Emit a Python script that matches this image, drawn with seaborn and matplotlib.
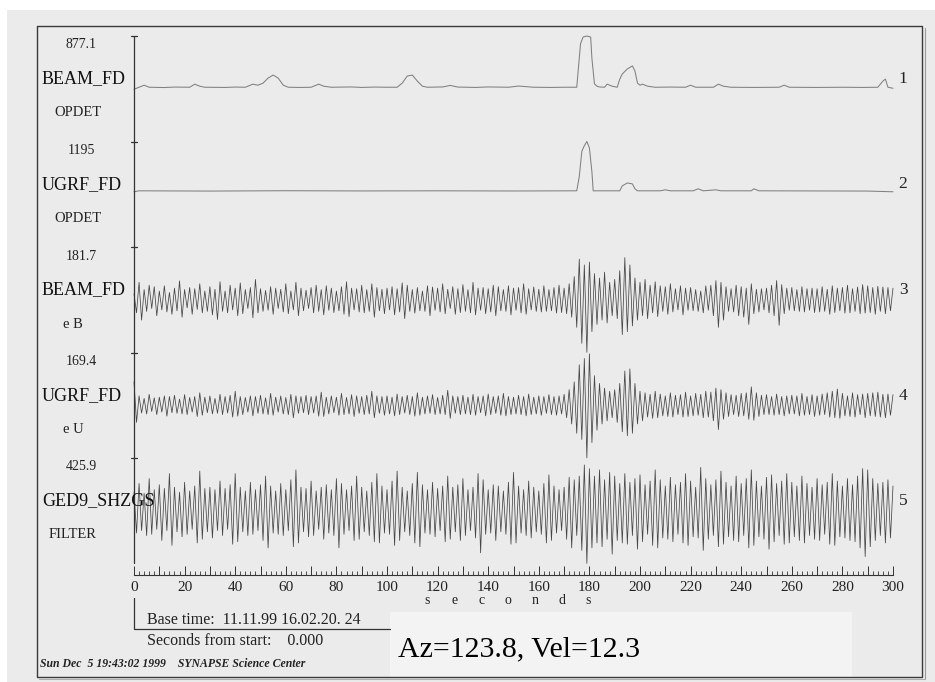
import matplotlib
matplotlib.use("Agg")
import matplotlib.pyplot as plt
import seaborn as sns
from matplotlib.lines import Line2D
from matplotlib.patches import Rectangle
from matplotlib.ticker import MultipleLocator, FuncFormatter

# ---------------- data ----------------
track_names = ["BEAM_FD", "UGRF_FD", "BEAM_FD", "UGRF_FD", "GED9_SHZGS"]
track_sub = ["OPDET", "OPDET", "e B", "e U", "FILTER"]
track_max = [877.1, 1195, 181.7, 169.4, 425.9]
track_max_labels = ["877.1", "1195", "181.7", "169.4", "425.9"]
track_ids = ["1", "2", "3", "4", "5"]

opdet1_t = [0, 2, 4, 6, 12, 16, 22, 24, 26, 28, 36, 40, 44, 47, 49, 51, 53, 55, 57, 59,
            61, 66, 70, 73, 75, 78, 86, 90, 95, 100, 104, 106, 108, 110, 112, 114, 116, 122,
            125, 128, 135, 140, 148, 152, 158, 165, 170, 175, 176.5, 177.5, 179, 180.5, 181,
            182, 183, 184, 186, 187, 189, 191, 192, 193, 195, 197, 198, 199, 200, 201, 203,
            206, 212, 218, 220, 222, 229, 231, 233, 236, 245, 255, 257, 259, 270, 280, 288,
            294, 296, 297, 298, 300]
opdet1_v = [-8, 25, 59, 25, 20, 28, 25, 76, 42, 25, 22, 28, 25, 76, 59, 93, 177, 228, 177, 59,
            25, 22, 25, 76, 42, 25, 30, 22, 28, 25, 25, 93, 211, 228, 127, 42, 25, 30,
            55, 28, 22, 30, 25, 45, 25, 22, 25, 25, 750, 860, 877, 860, 500,
            80, 42, 30, 25, 76, 42, 25, 160, 245, 330, 380, 296, 93, 59, 76, 42,
            25, 28, 25, 59, 25, 25, 76, 42, 25, 22, 25, 59, 25, 22, 25, 22,
            25, 127, 160, 25, 8]

opdet2_t = [0, 2, 30, 60, 90, 120, 150, 175, 176, 177, 178, 179, 180, 181, 181.5, 183, 192,
            193, 195, 197, 198, 199, 208, 210, 212, 221, 223, 225, 230, 232, 244, 245, 247,
            270, 290, 300]
opdet2_v = [56, 78, 72, 80, 75, 78, 74, 78, 400, 970, 1100, 1195, 1050, 500, 78, 78, 78,
            190, 256, 234, 123, 78, 78, 100, 78, 78, 123, 78, 100, 78, 78, 123, 78,
            75, 72, 56]

seis_t = list(range(0, 301))

beam_eb = [
    20, -45, 60, -70, 35, -40, 50, -30, 45, -55,
    30, -35, 48, -42, 25, -50, 40, -38, 65, -60,
    35, -28, 42, -50, 38, -33, 55, -45, 30, -40,
    45, -52, 36, -68, 62, -40, 30, -45, 50, -35,
    40, -55, 58, -48, 35, -30, 42, -62, 70, -45,
    38, -40, 32, -36, 45, -50, 40, -30, 36, -42,
    55, -48, 30, -35, 60, -55, 40, -38, 33, -30,
    42, -45, 50, -40, 35, -52, 48, -36, 40, -44,
    30, -38, 45, -50, 62, -58, 40, -35, 38, -42,
    50, -45, 35, -40, 55, -60, 42, -38, 36, -48,
    40, -35, 45, -52, 38, -42, 58, -65, 50, -40,
    35, -46, 42, -38, 30, -40, 48, -55, 44, -36,
    40, -42, 55, -48, 36, -30, 45, -50, 38, -44,
    52, -40, 35, -45, 60, -52, 40, -36, 42, -48,
    38, -42, 50, -55, 45, -38, 35, -40, 48, -52,
    40, -36, 42, -45, 55, -50, 38, -35, 44, -40,
    36, -42, 48, -40, 35, -38, 42, -46, 50, -44,
    40, -48, 55, -60, 80, -95, 140, -150, 120, -181,
    130, -110, 90, -85, 75, -70, 95, -80, 60, -55,
    70, -65, 100, -120, 145, -110, 120, -90, 75, -70,
    60, -55, 70, -65, 50, -45, 62, -58, 48, -40,
    45, -50, 55, -42, 38, -35, 48, -52, 40, -36,
    42, -38, 35, -40, 30, -45, 48, -36, 50, -55,
    66, -95, 60, -70, 45, -40, 38, -42, 50, -55,
    45, -60, 40, -85, 55, -48, 36, -42, 38, -35,
    40, -45, 50, -55, 66, -88, 52, -48, 40, -36,
    42, -38, 35, -40, 45, -42, 38, -36, 40, -44,
    38, -42, 45, -40, 36, -50, 48, -44, 40, -38,
    42, -46, 50, -45, 38, -40, 44, -48, 52, -46,
    48, -44, 42, -50, 46, -40, 44, -48, 42, -38,
    40]

ugrf_eu = [
    75, -55, 30, -25, 22, -28, 35, -20, 24, -30,
    26, -22, 30, -35, 28, -24, 32, -26, 20, -28,
    34, -30, 25, -22, 28, -36, 40, -32, 26, -24,
    30, -28, 22, -26, 35, -30, 28, -25, 32, -38,
    45, -35, 28, -30, 25, -22, 30, -34, 28, -26,
    32, -28, 24, -30, 38, -32, 26, -22, 30, -28,
    25, -30, 35, -40, 30, -26, 28, -24, 32, -30,
    28, -25, 30, -35, 42, -36, 26, -28, 30, -24,
    26, -32, 38, -30, 25, -28, 34, -36, 30, -26,
    28, -30, 32, -28, 45, -40, 30, -26, 28, -32,
    30, -28, 26, -34, 36, -30, 28, -25, 32, -30,
    28, -35, 40, -32, 26, -28, 30, -26, 34, -30,
    25, -28, 32, -30, 48, -42, 30, -26, 28, -30,
    32, -28, 26, -30, 35, -32, 28, -24, 30, -34,
    36, -30, 28, -26, 30, -32, 38, -34, 28, -30,
    26, -28, 32, -30, 28, -34, 36, -30, 26, -28,
    30, -32, 28, -26, 34, -30, 28, -32, 30, -28,
    35, -40, 50, -60, 75, -90, 130, -110, 150, -169,
    165, -120, 95, -80, 70, -60, 55, -50, 45, -40,
    50, -55, 70, -85, 110, -98, 117, -90, 70, -60,
    45, -50, 40, -38, 35, -42, 45, -40, 36, -34,
    30, -36, 40, -38, 32, -30, 34, -38, 42, -36,
    30, -34, 38, -32, 35, -40, 45, -38, 42, -50,
    55, -78, 50, -45, 40, -36, 34, -30, 32, -36,
    38, -34, 40, -45, 59, -48, 40, -36, 32, -30,
    34, -30, 28, -32, 36, -30, 28, -34, 30, -28,
    32, -28, 30, -34, 38, -32, 28, -30, 34, -36,
    30, -32, 36, -30, 40, -38, 45, -40, 52, -42,
    38, -34, 30, -36, 40, -38, 34, -30, 36, -40,
    38, -34, 40, -36, 42, -38, 35, -40, 36, -32,
    34]

ged9_filter = [
    150, -180, 220, -160, 140, -200, 260, -190, 170, -150,
    210, -240, 180, -160, 300, -280, 190, -170, 150, -210,
    230, -190, 160, -150, 200, -260, 320, -230, 180, -170,
    190, -220, 170, -160, 240, -200, 180, -150, 210, -270,
    300, -250, 190, -170, 160, -200, 230, -190, 170, -160,
    210, -240, 280, -300, 200, -180, 160, -190, 220, -200,
    170, -160, 250, -290, 330, -260, 190, -170, 180, -210,
    240, -200, 160, -150, 190, -230, 210, -180, 170, -200,
    260, -300, 220, -190, 170, -160, 200, -240, 280, -230,
    190, -170, 160, -200, 230, -250, 300, -260, 200, -180,
    170, -190, 240, -280, 320, -240, 190, -170, 160, -200,
    220, -260, 310, -290, 210, -180, 170, -190, 230, -210,
    180, -160, 200, -250, 280, -230, 190, -170, 210, -240,
    260, -200, 170, -160, 190, -220, 300, -340, 250, -190,
    170, -180, 210, -240, 200, -170, 160, -190, 230, -270,
    310, -260, 200, -180, 170, -200, 240, -220, 190, -170,
    160, -190, 220, -260, 290, -240, 200, -180, 170, -160,
    190, -230, 270, -300, 250, -200, 280, -320, 370, -425,
    340, -300, 280, -260, 330, -290, 250, -230, 310, -350,
    280, -240, 220, -260, 300, -270, 230, -200, 260, -310,
    290, -250, 210, -190, 240, -280, 330, -300, 250, -220,
    200, -230, 270, -250, 210, -190, 230, -260, 300, -280,
    240, -210, 190, -220, 350, -320, 260, -230, 210, -200,
    250, -290, 320, -270, 230, -210, 200, -240, 280, -250,
    220, -200, 260, -300, 330, -280, 240, -210, 200, -230,
    270, -310, 290, -250, 220, -200, 240, -270, 300, -260,
    230, -210, 200, -240, 280, -260, 220, -200, 190, -230,
    260, -240, 210, -190, 230, -270, 300, -280, 240, -210,
    200, -220, 260, -240, 210, -250, 280, -300, 340, -370,
    330, -290, 260, -240, 220, -200, 230, -260, 250, -220,
    200]

x_min, x_max = 0, 300
base_time = "Base time:  11.11.99 16.02.20. 24"
sec_from_start = "Seconds from start:    0.000"
footer = "Sun Dec  5 19:43:02 1999    SYNAPSE Science Center"
az_text = "Az=123.8, Vel=12.3"

# ---------------- style ----------------
sns.set_style("white")
plt.rcParams["font.family"] = ["Liberation Serif", "DejaVu Serif"]

W, H = 935, 682
fig = plt.figure(figsize=(W / 100, H / 100), dpi=100)
fig.patch.set_facecolor("white")


def fx(p):
    return p / W


def fy(p):
    return 1 - p / H


# paper background
fig.add_artist(Rectangle((fx(7), 0), 1 - fx(7), fy(10), transform=fig.transFigure,
                         facecolor="#ebebeb", edgecolor="none", zorder=-10))
fig.add_artist(Rectangle((fx(390), fy(677)), fx(852) - fx(390), fy(612) - fy(677),
                         transform=fig.transFigure, facecolor="#f3f3f3",
                         edgecolor="none", zorder=-9))
# outer frame
fig.add_artist(Line2D([fx(37), fx(922), fx(922), fx(37), fx(37)],
                      [fy(26), fy(26), fy(677), fy(677), fy(26)],
                      transform=fig.transFigure, color="#3a3a3a", lw=1.0))
fig.add_artist(Line2D([fx(925), fx(925)], [fy(28), fy(679)], transform=fig.transFigure,
                      color="#9a9a9a", lw=0.8))
fig.add_artist(Line2D([fx(39), fx(925)], [fy(679), fy(679)], transform=fig.transFigure,
                      color="#b0b0b0", lw=0.8))

# tracks
tops = [36, 141.5, 247, 352.5, 458]
th = 105.5
series = [(opdet1_t, opdet1_v), (opdet2_t, opdet2_v), (seis_t, beam_eb),
          (seis_t, ugrf_eu), (seis_t, ged9_filter)]
for k in range(5):
    ax = fig.add_axes([fx(134), fy(tops[k] + th), fx(893) - fx(134), th / H])
    ax.set_facecolor("none")
    tx, tv = series[k]
    if k < 2:
        sns.lineplot(x=tx, y=tv, ax=ax, color="#808080", linewidth=0.75,
                     estimator=None, legend=False)
    else:
        sns.lineplot(x=tx, y=tv, ax=ax, color="#454545", linewidth=0.55,
                     estimator=None, legend=False)
    for ln in ax.lines:
        ln.set_clip_on(False)
    ax.set_xlim(x_min, x_max)
    ax.set_ylim(-track_max[k], track_max[k])
    ax.axis("off")

    yc = tops[k]
    fig.text(fx(81), fy(yc + 9), track_max_labels[k],
             ha="center", va="center", fontsize=10, color="#222")
    fig.text(fx(42), fy(yc + 43), track_names[k], ha="left", va="center",
             fontsize=13, color="#111", zorder=10)
    fig.text(fx(78) if k < 2 else fx(73), fy(yc + 77), track_sub[k], ha="center",
             va="center", fontsize=10.5, color="#222")
    fig.text(fx(903), fy(yc + 43), track_ids[k], ha="center", va="center",
             fontsize=12.5, color="#222")

# left vertical axis with small ticks at track boundaries
fig.add_artist(Line2D([fx(134), fx(134)], [fy(36), fy(563)], transform=fig.transFigure,
                      color="#333", lw=0.9))
for yb in tops:
    fig.add_artist(Line2D([fx(131), fx(137)], [fy(yb), fy(yb)], transform=fig.transFigure,
                          color="#333", lw=0.9))

# time ruler
axr = fig.add_axes([fx(134), fy(575), fx(893) - fx(134), 8 / H])
axr.set_facecolor("none")
axr.set_xlim(x_min, x_max)
axr.set_yticks([])
for s in ["left", "right", "top"]:
    axr.spines[s].set_visible(False)
axr.spines["bottom"].set_color("#333")
axr.spines["bottom"].set_linewidth(0.8)
axr.xaxis.set_major_locator(MultipleLocator(10))
axr.xaxis.set_minor_locator(MultipleLocator(2))
axr.xaxis.set_major_formatter(FuncFormatter(lambda v, p: f"{int(round(v))}" if round(v) % 20 == 0 else ""))
axr.tick_params(axis="x", which="both", bottom=True, top=False)
axr.tick_params(axis="x", which="major", direction="in", length=6.5, width=0.7,
                pad=4, labelsize=11, colors="#333", labelcolor="#222")
axr.tick_params(axis="x", which="minor", direction="in", length=3.2, width=0.6, colors="#333")

for i, ch in enumerate("seconds"):
    fig.text(fx(134 + (116 + i * 10.6) * 2.53), fy(601), ch,
             ha="center", va="center", fontsize=10, color="#222")

# base time box
fig.add_artist(Line2D([fx(134), fx(134), fx(390)], [fy(598), fy(629), fy(629)],
                      transform=fig.transFigure, color="#333", lw=0.9))
fig.text(fx(147), fy(620), base_time, ha="left", va="center", fontsize=11.5, color="#222")
fig.text(fx(147), fy(641), sec_from_start, ha="left", va="center", fontsize=11.5, color="#222")
fig.text(fx(40), fy(664), footer, ha="left", va="center", fontsize=8.5,
         fontstyle="italic", fontweight="bold", color="#222")
fig.text(fx(398), fy(649), az_text, ha="left", va="center", fontsize=21.5, color="#000")

fig.savefig("out.png", dpi=100, facecolor=fig.get_facecolor())
